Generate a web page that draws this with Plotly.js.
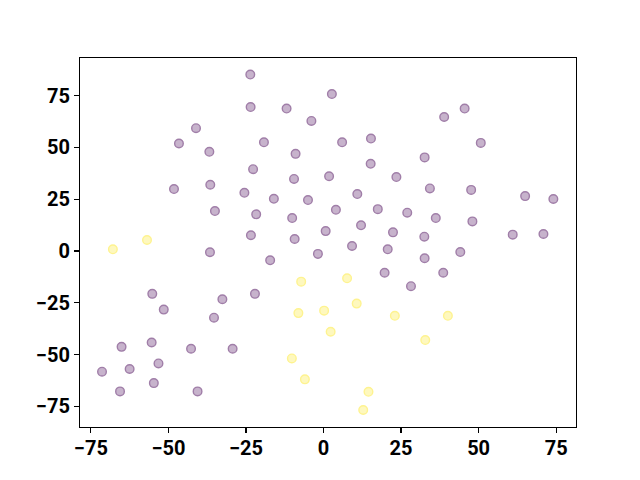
<!DOCTYPE html>
<html>
<head>
<meta charset="utf-8">
<script src="https://cdn.plot.ly/plotly-3.0.1.min.js"></script>
<style>html,body{margin:0;padding:0;background:#fff;}#chart{width:640px;height:480px;}</style>
</head>
<body>
<div id="chart"></div>
<script>
// Class 0 (purple) points
const purpleX = [-23.6,-23.5,-11.9,2.7,-3.9,-41.1,-46.6,-36.8,-19.2,-9.0,6.0,15.3,38.9,45.5,50.7,32.6,15.2,-22.7,-9.5,1.8,23.5,-48.2,-36.5,-25.5,-16.0,-5.0,10.9,34.3,47.6,65.0,74.1,-35.0,-21.7,-10.1,4.0,17.5,27.0,36.2,48.0,0.7,12.1,22.4,32.5,61.0,70.9,-23.4,-9.3,-36.6,-17.2,-1.8,9.2,20.7,32.6,44.1,19.7,38.6,28.2,-55.2,-22.1,-32.6,-51.5,-35.3,-65.1,-55.4,-42.7,-29.3,-71.4,-62.5,-53.2,-54.7,-65.6,-40.6];
const purpleY = [85.2,69.5,68.8,75.8,62.8,59.3,51.9,47.9,52.5,46.9,52.5,54.3,64.7,68.8,52.2,45.2,42.1,39.5,34.8,36.1,35.7,29.9,32.0,28.1,25.2,24.6,27.5,30.2,29.5,26.5,25.1,19.3,17.7,15.9,19.9,20.2,18.5,15.9,14.3,9.6,12.4,9.0,6.9,7.9,8.2,7.6,5.8,-0.6,-4.5,-1.4,2.4,0.8,-3.5,-0.5,-10.5,-10.5,-17.0,-20.7,-20.7,-23.3,-28.3,-32.2,-46.3,-44.2,-47.2,-47.2,-58.3,-57.0,-54.3,-63.8,-67.8,-67.8];
// Class 1 (yellow) points
const yellowX = [-67.9,-56.9,-7.2,-8.1,0.2,7.6,10.7,2.3,23.0,40.1,32.8,-10.2,-6.0,14.5,12.8];
const yellowY = [0.8,5.3,-14.8,-30.0,-28.8,-13.2,-25.4,-39.0,-31.3,-31.3,-43.0,-51.9,-62.0,-68.0,-76.8];
const xTicks = [-75,-50,-25,0,25,50,75];
const yTicks = [-75,-50,-25,0,25,50,75];

const mk = (fill, edge) => ({size: 8.6, color: fill, line: {color: edge, width: 1.4}});
const traces = [
  {x: purpleX, y: purpleY, type: 'scatter', mode: 'markers', marker: mk('rgb(199,179,204)', 'rgb(160,126,168)'), hoverinfo: 'none'},
  {x: yellowX, y: yellowY, type: 'scatter', mode: 'markers', marker: mk('rgb(254,248,190)', 'rgb(254,243,144)'), hoverinfo: 'none'}
];
const tickFont = {family: 'Roboto, sans-serif', size: 20, color: '#000', weight: 'bold'};
const axisCommon = {
  showgrid: false, zeroline: false, showline: true, mirror: true, linecolor: '#000', linewidth: 1.1,
  ticks: 'outside', ticklen: 5, tickwidth: 1.1, tickcolor: '#000', tickfont: tickFont, tickmode: 'array'
};
const layout = {
  width: 640, height: 480, showlegend: false,
  paper_bgcolor: '#fff', plot_bgcolor: '#fff',
  margin: {l: 80, r: 64, t: 58, b: 53, pad: 0},
  xaxis: Object.assign({}, axisCommon, {range: [-78.5, 81.4], tickvals: xTicks, ticklabelstandoff: -2}),
  yaxis: Object.assign({}, axisCommon, {range: [-85.0, 93.2], tickvals: yTicks})
};
Plotly.newPlot('chart', traces, layout, {staticPlot: true});
</script>
</body>
</html>
